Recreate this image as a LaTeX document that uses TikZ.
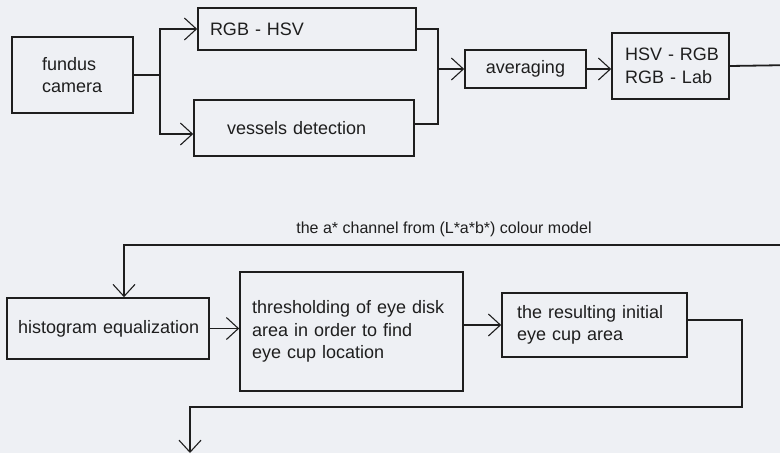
\documentclass[tikz,border=0pt]{standalone}
\usepackage{fontspec}
\setmainfont{Liberation Sans}
\usetikzlibrary{arrows.meta}
\definecolor{bgc}{RGB}{238,240,244}
\definecolor{ink}{RGB}{30,30,30}
\tikzset{
  box/.style={draw=ink, line width=1.6pt, rectangle, inner ysep=0pt, align=left,
    font=\fontsize{18}{22.5}\selectfont, text=ink,
    execute at begin node={\hyphenpenalty=10000\relax\exhyphenpenalty=10000\relax}},
  conn/.style={draw=ink, line width=1.8pt},
  arr/.style={conn, -{Straight Barb[length=12pt,width=22pt,line width=1.1pt]}},
  lbl/.style={font=\fontsize{16}{19}\selectfont, text=ink, inner sep=0pt}
}
\begin{document}
\begin{tikzpicture}[x=1pt,y=-1pt]
\path[use as bounding box, clip] (0,0) rectangle (780,453);
\fill[bgc] (0,0) rectangle (780,453);

\node[box, text width=61pt, inner xsep=30pt, minimum height=76pt] (fundus) at (72.5,75) {fundus\\camera};
\node[box, text width=194pt, inner xsep=12pt, minimum height=42pt] (rgbhsv) at (307,29) {RGB~-~HSV};
\node[box, text width=154pt, inner xsep=33pt, minimum height=56pt] (vessels) at (304,128) {vessels~detection};
\node[box, text width=97pt, inner xsep=12pt, align=center, minimum height=38pt] (avg) at (525.5,69) {averaging};
\node[box, text width=91pt, inner xsep=13pt, minimum height=66pt] (hsv) at (670.5,66) {HSV~-~RGB\\RGB~-~Lab};

\node[box, text width=180pt, inner xsep=11pt, minimum height=61pt] (hist) at (108,328.5) {histogram~equalization};
\node[box, text width=199pt, inner xsep=12pt, minimum height=119pt] (thr) at (351.5,331.5) {thresholding~of~eye~disk\\area~in~order~to~find\\eye~cup~location};
\node[box, text width=155pt, inner xsep=15pt, minimum height=64pt] (res) at (594.5,325) {the~resulting~initial\\eye~cup~area};

\node[lbl] (chan) at (444,229) {the a* channel from (L*a*b*) colour model};

\coordinate (s1) at (160,75);
\coordinate (m1) at (438,29);
\coordinate (r1) at (795,65);
\coordinate (r2) at (795,245);
\coordinate (h1) at (124,245);
\coordinate (e1) at (742,320);
\coordinate (e2) at (742,407);
\coordinate (e3) at (190,407);
\coordinate (e4) at (190,453);

\draw[conn] (fundus.east) -- (s1);
\draw[arr] (s1) |- (rgbhsv.west);
\draw[arr] (s1) |- ([yshift=-6pt]vessels.west);

\draw[conn] (rgbhsv.east) -- (m1) |- ([yshift=4pt]vessels.east);
\draw[arr] (m1 |- avg.west) -- (avg.west);
\draw[arr] (avg.east) -- (avg.east -| hsv.west);

\draw[arr] (hsv.east) -- (r1) -- (r2) -- (h1) -- (h1 |- hist.north);

\draw[arr] (hist.east) -- (hist.east -| thr.west);
\draw[arr] (res.west -| thr.east) -- (res.west);

\draw[arr] ([yshift=5pt]res.east) -- (e1) -- (e2) -- (e3) -- (e4);
\end{tikzpicture}
\end{document}
